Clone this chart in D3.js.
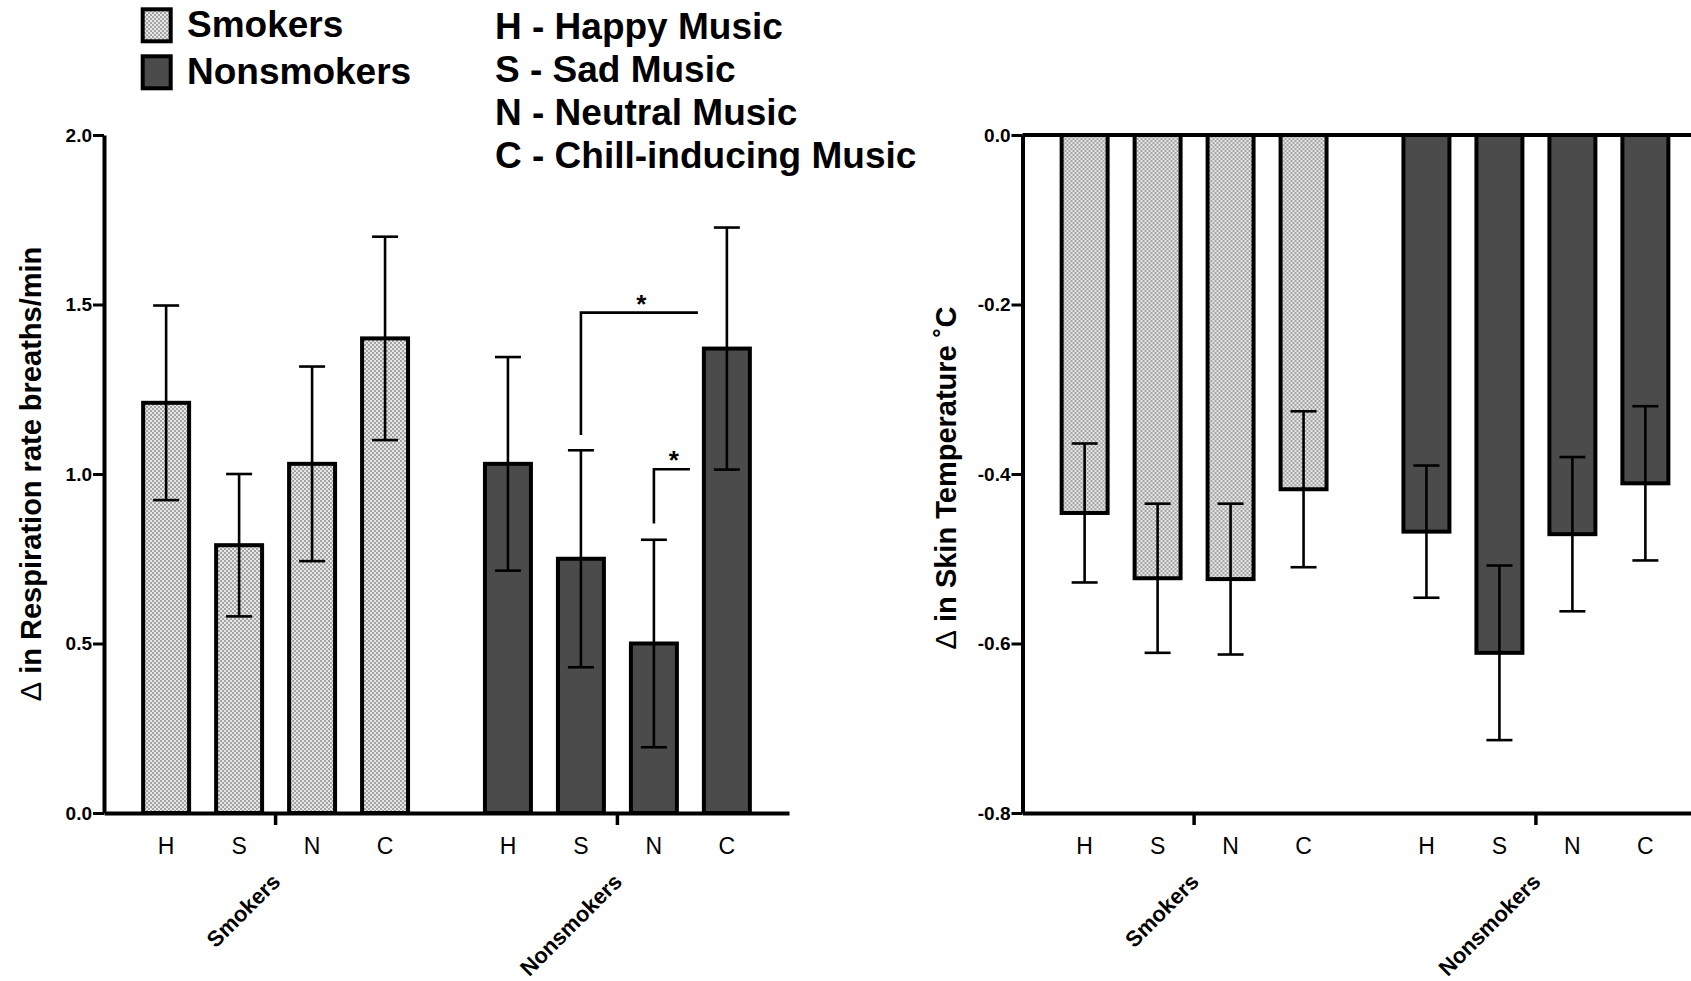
<!DOCTYPE html>
<html>
<head>
<meta charset="utf-8">
<script src="https://cdn.jsdelivr.net/npm/d3@7"></script>
<style>
  html, body { margin: 0; padding: 0; background: #fff; overflow: hidden; }
  svg { display: block; font-family: "Liberation Sans", Arial, Helvetica, sans-serif; }
</style>
</head>
<body>
<svg id="chart" width="1691" height="981"></svg>
<script>
const groups = ['Smokers', 'Nonsmokers'];
const music = ['H', 'S', 'N', 'C'];
const musicNames = ['Happy Music', 'Sad Music', 'Neutral Music', 'Chill-inducing Music'];

// change in respiration rate (breaths/min): mean and SEM
const respSmokers = [1.21, 0.79, 1.03, 1.40];
const respSmokersErr = [0.287, 0.21, 0.287, 0.30];
const respNonsmokers = [1.03, 0.75, 0.50, 1.37];
const respNonsmokersErr = [0.315, 0.32, 0.306, 0.357];
const respTicks = [0, 0.5, 1.0, 1.5, 2.0];

// change in skin temperature (deg C): mean and SEM
const tempSmokers = [-0.446, -0.523, -0.524, -0.418];
const tempSmokersErr = [0.082, 0.088, 0.089, 0.092];
const tempNonsmokers = [-0.468, -0.611, -0.471, -0.411];
const tempNonsmokersErr = [0.078, 0.103, 0.091, 0.091];
const tempTicks = [0, -0.2, -0.4, -0.6, -0.8];

// significance brackets in the nonsmokers group, pointing to C
const sigBrackets = [
  { from: 'S', low: 1.115, high: 1.476 },
  { from: 'N', low: 0.854, high: 1.014 }
];

const svg = d3.select('#chart');

const plotTop = 135;
const plotBottom = 813;
const plotW = 685;

// checkered fill used by the smokers bars
const pat = svg.append('defs').append('pattern')
  .attr('id', 'checker')
  .attr('width', 4)
  .attr('height', 4)
  .attr('patternUnits', 'userSpaceOnUse');
pat.append('rect').attr('width', 4).attr('height', 4).attr('fill', '#e6e6e6');
pat.append('rect').attr('width', 2).attr('height', 2).attr('fill', '#a4a4a4');
pat.append('rect').attr('x', 2).attr('y', 2).attr('width', 2).attr('height', 2).attr('fill', '#a4a4a4');

const fills = { Smokers: 'url(#checker)', Nonsmokers: '#4b4b4b' };

function rows(smk, smkErr, non, nonErr) {
  return music.map((c, i) => ({ group: 'Smokers', cat: c, value: smk[i], err: smkErr[i] }))
    .concat(music.map((c, i) => ({ group: 'Nonsmokers', cat: c, value: non[i], err: nonErr[i] })));
}

function drawPanel(left, opts) {
  const g = svg.append('g').attr('transform', `translate(${left},0)`);

  const x0 = d3.scaleBand().domain(groups).range([0, plotW])
    .paddingInner(0.146).paddingOuter(0.075);
  const x1 = d3.scaleBand().domain(music).range([0, x0.bandwidth()])
    .paddingInner(0.37).paddingOuter(0.185);
  const y = d3.scaleLinear().domain(opts.domain).range([plotBottom, plotTop]);

  const cx = (d) => x0(d.group) + x1(d.cat) + x1.bandwidth() / 2;

  // bars
  g.selectAll('.bar')
    .data(opts.data)
    .enter().append('rect')
    .attr('class', 'bar')
    .attr('x', (d) => x0(d.group) + x1(d.cat))
    .attr('width', x1.bandwidth())
    .attr('y', (d) => Math.min(y(0), y(d.value)))
    .attr('height', (d) => Math.abs(y(d.value) - y(0)))
    .attr('fill', (d) => fills[d.group])
    .attr('stroke', '#000')
    .attr('stroke-width', 4);

  // error bars
  const capW = 26;
  const eb = g.selectAll('.err')
    .data(opts.data)
    .enter().append('g')
    .attr('class', 'err')
    .attr('stroke', '#000')
    .attr('stroke-width', 2.6);
  eb.append('line')
    .attr('x1', cx).attr('x2', cx)
    .attr('y1', (d) => y(d.value - d.err))
    .attr('y2', (d) => y(d.value + d.err));
  [-1, 1].forEach((s) => {
    eb.append('line')
      .attr('x1', (d) => cx(d) - capW / 2)
      .attr('x2', (d) => cx(d) + capW / 2)
      .attr('y1', (d) => y(d.value + s * d.err))
      .attr('y2', (d) => y(d.value + s * d.err));
  });

  // y axis
  const yAxis = g.append('g')
    .call(d3.axisLeft(y).tickValues(opts.ticks).tickFormat((d) => d.toFixed(1))
      .tickSize(11).tickSizeOuter(0).tickPadding(1));
  yAxis.select('.domain').attr('stroke-width', 4);
  yAxis.selectAll('.tick line').attr('stroke-width', 3);
  yAxis.selectAll('.tick text')
    .attr('fill', '#000')
    .style('font-size', '19px')
    .style('font-weight', 'bold')
    .style('font-family', '"Liberation Sans", Arial, sans-serif');

  // baseline at zero when it is not the bottom
  if (y(0) !== plotBottom) {
    g.append('line')
      .attr('x1', 0).attr('x2', plotW)
      .attr('y1', y(0)).attr('y2', y(0))
      .attr('stroke', '#000')
      .attr('stroke-width', 4);
  }

  // x axis with group ticks
  const xAxis = g.append('g')
    .attr('transform', `translate(0,${plotBottom})`)
    .call(d3.axisBottom(x0).tickSize(12).tickSizeOuter(0).tickFormat(''));
  xAxis.select('.domain').attr('stroke-width', 4);
  xAxis.selectAll('.tick line').attr('stroke-width', 3.5);

  // music category labels
  g.selectAll('.cat')
    .data(opts.data)
    .enter().append('text')
    .attr('class', 'cat')
    .attr('x', cx)
    .attr('y', 854)
    .attr('text-anchor', 'middle')
    .style('font-size', '23px')
    .text((d) => d.cat);

  // group labels
  g.selectAll('.grp')
    .data(groups)
    .enter().append('text')
    .attr('class', 'grp')
    .attr('transform', (d) => `translate(${x0(d) + x0.bandwidth() / 2 + 6},883) rotate(-45)`)
    .attr('text-anchor', 'end')
    .style('font-size', '22px')
    .style('font-weight', 'bold')
    .text((d) => d);

  // y title
  const title = g.append('text')
    .attr('transform', `translate(${opts.titleX},${opts.titleY}) rotate(-90)`)
    .attr('text-anchor', 'middle')
    .style('font-size', '29px')
    .style('font-weight', 'bold');
  title.append('tspan').style('font-weight', 'normal').text('Δ');
  title.append('tspan').text(' ' + opts.title);

  return { g, x0, x1, y };
}

const resp = drawPanel(104, {
  data: rows(respSmokers, respSmokersErr, respNonsmokers, respNonsmokersErr),
  domain: [0, 2],
  ticks: respTicks,
  title: 'in Respiration rate breaths/min',
  titleX: -63,
  titleY: 474
});

drawPanel(1022.5, {
  data: rows(tempSmokers, tempSmokersErr, tempNonsmokers, tempNonsmokersErr),
  domain: [-0.8, 0],
  ticks: tempTicks,
  title: 'in Skin Temperature ˚C',
  titleX: -67,
  titleY: 478
});

// significance brackets on the respiration panel
const endGap = [6, 14];
sigBrackets.forEach((b, i) => {
  const gx = resp.x0('Nonsmokers');
  const xs = gx + resp.x1(b.from) + resp.x1.bandwidth() / 2;
  const xe = gx + resp.x1('C') - endGap[i];
  resp.g.append('path')
    .attr('d', `M${xs},${resp.y(b.low)}V${resp.y(b.high)}H${xe}`)
    .attr('fill', 'none')
    .attr('stroke', '#000')
    .attr('stroke-width', 2.6);
  resp.g.append('text')
    .attr('x', (xs + xe) / 2 + 2)
    .attr('y', resp.y(b.high))
    .attr('text-anchor', 'middle')
    .style('font-size', '26px')
    .style('font-weight', 'bold')
    .text('*');
});

// legend: groups
const legend = svg.append('g');
groups.forEach((grp, i) => {
  legend.append('rect')
    .attr('x', 142.7)
    .attr('y', 9.3 + i * 47)
    .attr('width', 28)
    .attr('height', 32)
    .attr('fill', fills[grp])
    .attr('stroke', '#000')
    .attr('stroke-width', 4);
  legend.append('text')
    .attr('x', 187)
    .attr('y', 37 + i * 47)
    .style('font-size', '37px')
    .style('font-weight', 'bold')
    .text(grp);
});

// legend: music key
music.forEach((c, i) => {
  legend.append('text')
    .attr('x', 495)
    .attr('y', 38.5 + i * 43)
    .style('font-size', '37px')
    .style('font-weight', 'bold')
    .text(`${c} - ${musicNames[i]}`);
});
</script>
</body>
</html>
